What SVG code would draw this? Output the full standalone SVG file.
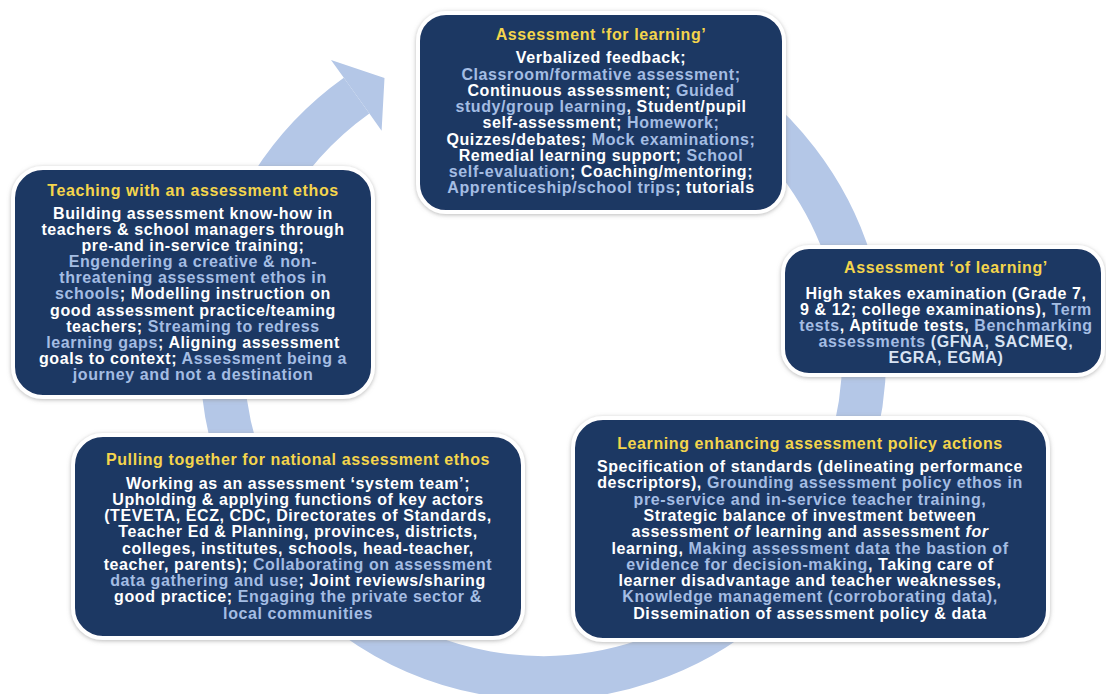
<svg xmlns="http://www.w3.org/2000/svg" width="1106" height="694" viewBox="0 0 1106 694">
  <defs>
    <filter id="sh" x="-10%" y="-10%" width="120%" height="120%">
      <feDropShadow dx="0" dy="1" stdDeviation="2" flood-color="#8a8a8a" flood-opacity="0.6"/>
    </filter>
  </defs>
  <style>
    .box { fill: #1f3763; stroke: #ffffff; stroke-width: 4; filter: url(#sh); }
    text { font-family: "Liberation Sans", Arial, sans-serif; font-weight: bold; font-size: 16px; letter-spacing: 0.6px; text-anchor: middle; fill: #ffffff; }
    .t { fill: #f4d54c; }
    .b { fill: #a4bde3; }
    .p { fill: #d8e3f3; }
    .i { font-style: italic; }
    .ring { fill: none; stroke: #b4c7e7; stroke-width: 44; }
  </style>
  <rect x="0" y="0" width="1106" height="694" fill="#ffffff"/>

  <g id="connectors">
    <path class="ring" d="M 531.8 36.2 A 321 321 0 1 1 356.6 95.7"/>
    <polygon fill="#b4c7e7" points="331,60 343.8,77.8 369.4,113.6 381.6,130.7 384.5,77.9"/>
  </g>

  <g id="for-learning">
    <rect class="box" x="418" y="13" width="366" height="199" rx="28"/>
    <text class="t" x="601" y="40">Assessment ‘for learning’</text>
    <text x="601" y="63.3">Verbalized feedback;</text>
    <text x="601" y="79.5"><tspan class="b">Classroom/formative assessment;</tspan></text>
    <text x="601" y="95.8">Continuous assessment; <tspan class="b">Guided</tspan></text>
    <text x="601" y="112"><tspan class="b">study/group learning</tspan>, Student/pupil</text>
    <text x="601" y="128.3">self-assessment;  <tspan class="b">Homework;</tspan></text>
    <text x="601" y="144.5">Quizzes/debates; <tspan class="b">Mock examinations;</tspan></text>
    <text x="601" y="160.8">Remedial learning support; <tspan class="b">School</tspan></text>
    <text x="601" y="177"><tspan class="b">self-evaluation</tspan>; Coaching/mentoring;</text>
    <text x="601" y="193.3"><tspan class="b">Apprenticeship/school trips</tspan>; tutorials</text>
  </g>

  <g id="teaching-ethos">
    <rect class="box" x="13" y="168" width="360" height="229" rx="30"/>
    <text class="t" x="193" y="195.5">Teaching with an assessment ethos</text>
    <text x="193" y="218.5">Building assessment know-how in</text>
    <text x="193" y="234.7">teachers &amp; school managers through</text>
    <text x="193" y="250.8">pre-and in-service training;</text>
    <text x="193" y="267"><tspan class="b">Engendering a creative &amp; non-</tspan></text>
    <text x="193" y="283.2"><tspan class="b">threatening assessment ethos in</tspan></text>
    <text x="193" y="299.4"><tspan class="b">schools</tspan>; Modelling instruction on</text>
    <text x="193" y="315.5">good assessment practice/teaming</text>
    <text x="193" y="331.7">teachers; <tspan class="b">Streaming to redress</tspan></text>
    <text x="193" y="347.9"><tspan class="b">learning gaps</tspan>; Aligning assessment</text>
    <text x="193" y="364">goals to context; <tspan class="b">Assessment being a</tspan></text>
    <text x="193" y="380.2"><tspan class="b">journey and not a destination</tspan></text>
  </g>

  <g id="of-learning">
    <rect class="box" x="783" y="247" width="320" height="128" rx="26"/>
    <text class="t" x="946" y="273">Assessment ‘of learning’</text>
    <text x="946" y="298.5">High stakes examination (Grade 7,</text>
    <text x="946" y="314.5">9 &amp; 12; college examinations), <tspan class="b">Term</tspan></text>
    <text x="946" y="330.5"><tspan class="b">tests</tspan>, Aptitude tests, <tspan class="b">Benchmarking</tspan></text>
    <text x="946" y="346.5"><tspan class="b">assessments</tspan> <tspan class="p">(GFNA,  SACMEQ,</tspan></text>
    <text x="946" y="362.5"><tspan class="p">EGRA, EGMA)</tspan></text>
  </g>

  <g id="national-ethos">
    <rect class="box" x="73" y="435" width="450" height="203" rx="30"/>
    <text class="t" x="298" y="465">Pulling together for national assessment ethos</text>
    <text x="298" y="488.5">Working as an assessment ‘system team’;</text>
    <text x="298" y="504.8">Upholding &amp; applying functions of key actors</text>
    <text x="298" y="521">(TEVETA, ECZ, CDC, Directorates of Standards,</text>
    <text x="298" y="537.3">Teacher Ed &amp; Planning, provinces, districts,</text>
    <text x="298" y="553.5">colleges, institutes, schools, head-teacher,</text>
    <text x="298" y="569.8">teacher, parents); <tspan class="b">Collaborating on assessment</tspan></text>
    <text x="298" y="586"><tspan class="b">data gathering and use</tspan>; Joint reviews/sharing</text>
    <text x="298" y="602.3">good practice; <tspan class="b">Engaging the private sector &amp;</tspan></text>
    <text x="298" y="618.5"><tspan class="b">local communities</tspan></text>
  </g>

  <g id="policy-actions">
    <rect class="box" x="573" y="418" width="475" height="222" rx="30"/>
    <text class="t" x="810" y="448.5">Learning enhancing assessment policy actions</text>
    <text x="810" y="472">Specification of standards (delineating performance</text>
    <text x="810" y="488.3">descriptors), <tspan class="b">Grounding assessment policy ethos in</tspan></text>
    <text x="810" y="504.6"><tspan class="b">pre-service and in-service teacher training,</tspan></text>
    <text x="810" y="520.9">Strategic balance of investment between</text>
    <text x="810" y="537.2">assessment <tspan class="i">of</tspan> learning and assessment <tspan class="i">for</tspan></text>
    <text x="810" y="553.5">learning, <tspan class="b">Making assessment data the bastion of</tspan></text>
    <text x="810" y="569.7"><tspan class="b">evidence for decision-making</tspan>, Taking care of</text>
    <text x="810" y="586">learner disadvantage and teacher weaknesses,</text>
    <text x="810" y="602.3"><tspan class="b">Knowledge management (corroborating data),</tspan></text>
    <text x="810" y="618.6">Dissemination of assessment policy &amp; data</text>
  </g>
</svg>
